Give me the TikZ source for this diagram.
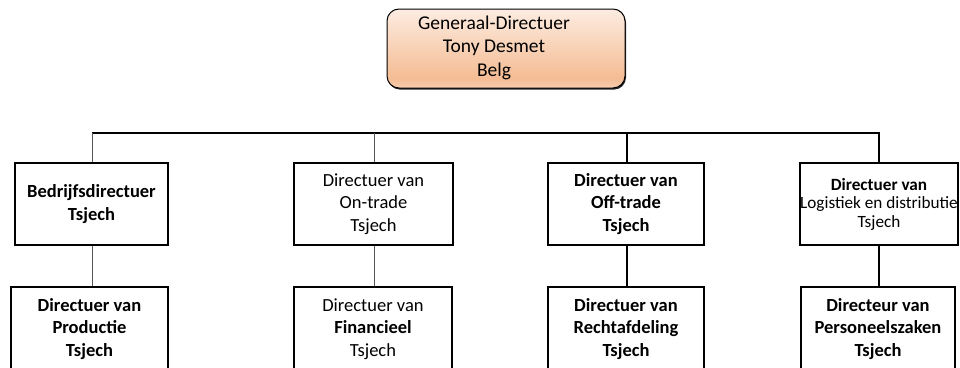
\documentclass[tikz,border=0pt]{standalone}
\usepackage{fontspec}
\setmainfont{Carlito}
\usetikzlibrary{shadows}

\definecolor{peachtop}{HTML}{FDECE1}
\definecolor{peachmid}{HTML}{F4BC93}
\definecolor{peachbot}{HTML}{F8CEB1}
\definecolor{linkgray}{HTML}{555555}

% vertical peach shading: the path spans 25bp (bottom) to 75bp (top)
\pgfdeclareverticalshading{peachshade}{100bp}{%
  color(0bp)=(peachbot); color(25bp)=(peachbot); color(31bp)=(peachmid);
  color(75bp)=(peachtop); color(100bp)=(peachtop)}

\tikzset{
  chiefbox/.style={draw=black, line width=1pt, rounded corners=12pt,
    shading=peachshade, minimum width=238pt, minimum height=79pt,
    inner sep=0pt,
    drop shadow={shadow xshift=1pt, shadow yshift=-1.6pt, opacity=1, fill=black!85}},
  chieftext/.style={align=center, inner sep=0pt,
    font=\fontsize{19.5}{23.5}\selectfont},
  unit/.style={draw=black, line width=1.8pt, fill=white, align=center,
    inner sep=0pt, font=\fontsize{18.5}{22.5}\selectfont},
  small/.style={font=\fontsize{17.2}{18.5}\selectfont},
  bus/.style={line width=2.2pt},
  thinlink/.style={draw=linkgray, line width=1pt},
  thicklink/.style={line width=2pt}
}

\begin{document}
\begin{tikzpicture}[x=1pt, y=-1pt]
\useasboundingbox (0,0) rectangle (960,367);
\clip (0,0) rectangle (960,367);

% top of the hierarchy: shaded box with its text set a little to the left
\node[chiefbox] (gdbox) at (506,48.5) {};
\node[chieftext] (gd) at (494,47.5) {Generaal-Directuer\\Tony Desmet\\Belg};

% bus line
\coordinate (busL) at (92,133);
\coordinate (busR) at (880,133);

% second level
\node[unit, minimum width=153pt, minimum height=82pt] (b1) at (91.5,204)
  {\bfseries Bedrijfsdirectuer\\\bfseries Tsjech};
\node[unit, minimum width=159pt, minimum height=82pt] (b2) at (373.5,204)
  {Directuer van\\On-trade\\Tsjech};
\node[unit, minimum width=156pt, minimum height=82pt] (b3) at (626,204)
  {\bfseries Directuer van\\\bfseries Off-trade\\\bfseries Tsjech};
\node[unit, small, minimum width=156pt, minimum height=82pt] (b4) at (879,204)
  {\bfseries Directuer van\\Logistiek en distributie\\Tsjech};

% third level (runs past the lower edge)
\node[unit, minimum width=157pt, minimum height=84pt] (c1) at (89.5,329)
  {\bfseries Directuer van\\\bfseries Productie\\\bfseries Tsjech};
\node[unit, minimum width=158pt, minimum height=84pt] (c2) at (373,329)
  {Directuer van\\\bfseries Financieel\\Tsjech};
\node[unit, minimum width=156pt, minimum height=84pt] (c3) at (626,329)
  {\bfseries Directuer van\\\bfseries Rechtafdeling\\\bfseries Tsjech};
\node[unit, minimum width=154pt, minimum height=84pt] (c4) at (878,329)
  {\bfseries Directeur van\\\bfseries Personeelszaken\\\bfseries Tsjech};

% connectors
\draw[bus] (busL) -- (busR);
\draw[thinlink] (b1.north -| busL) -- (busL);
\draw[thinlink] (b2.north) ++(0.5,0) coordinate (b2top) -- (b2top |- busL);
\draw[thicklink] (b3.north) ++(1,0) coordinate (b3top) -- (b3top |- busL);
\draw[thicklink] (b4.north) -- (b4.north |- busL);

\draw[thinlink] (b1.south -| busL) -- (c1.north -| busL);
\draw[thinlink] (b2top |- b2.south) -- (b2top |- c2.north);
\draw[thicklink] (b3top |- b3.south) -- (b3top |- c3.north);
\draw[thicklink] (b4.south) -- (b4.south |- c4.north);
\end{tikzpicture}
\end{document}
